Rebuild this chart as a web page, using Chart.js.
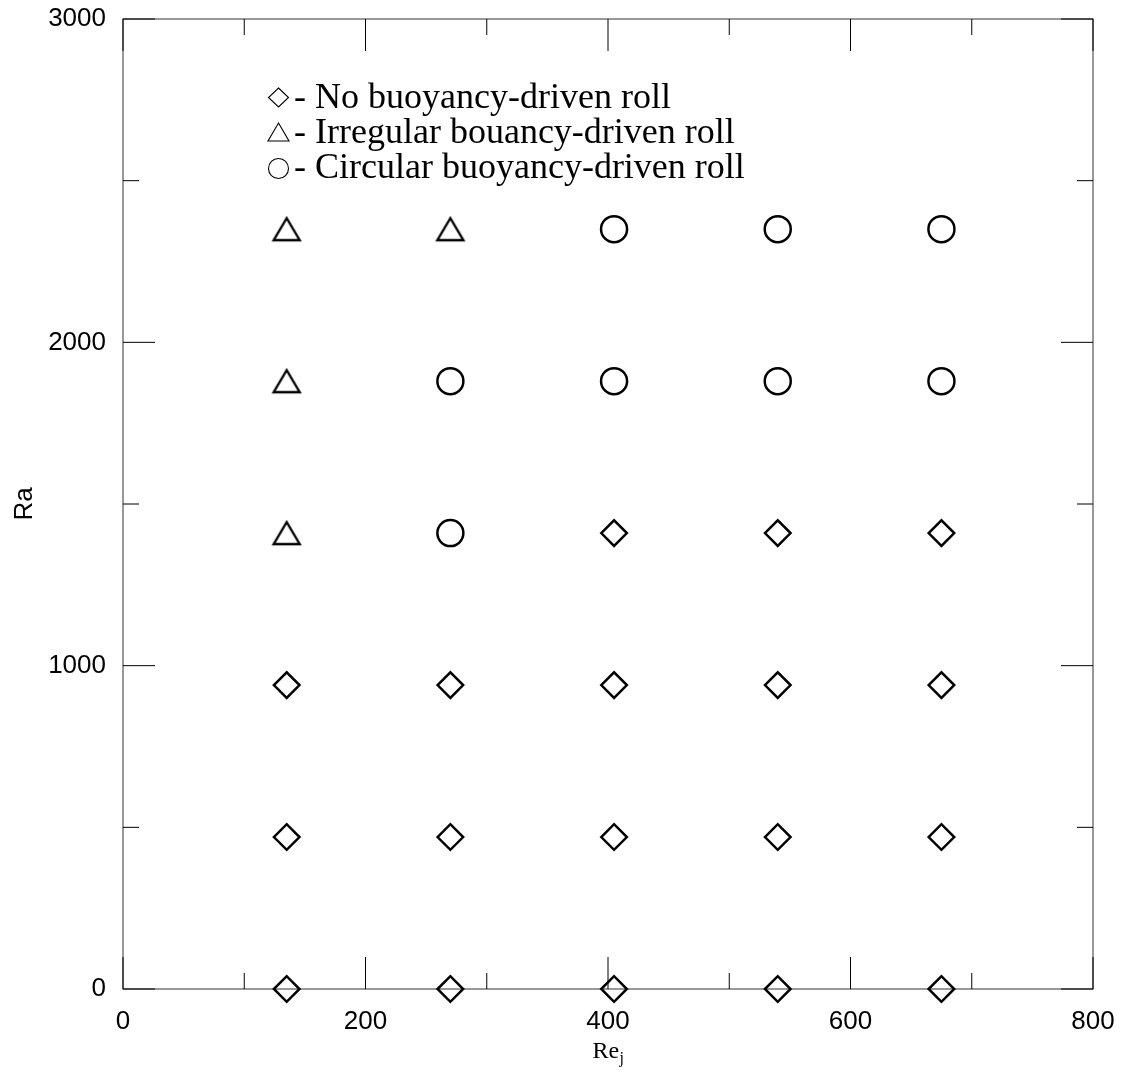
<!DOCTYPE html>
<html><head><meta charset="utf-8">
<script src="https://cdn.jsdelivr.net/npm/chart.js@4"></script>
<style>html,body{margin:0;padding:0;background:#fff}#wrap{width:1125px;height:1073px;position:relative}</style>
</head><body><div id="wrap"><canvas id="c"></canvas></div>
<script>
// Data (Re_j, Ra) for each flow regime
const noRollRe = [135, 270, 405, 540, 675, 135, 270, 405, 540, 675, 135, 270, 405, 540, 675, 405, 540, 675];
const noRollRa = [0, 0, 0, 0, 0, 470, 470, 470, 470, 470, 940, 940, 940, 940, 940, 1410, 1410, 1410];
const irregularRe = [135, 135, 135, 270];
const irregularRa = [1410, 1880, 2350, 2350];
const circularRe = [270, 270, 405, 540, 675, 405, 540, 675];
const circularRa = [1410, 1880, 1880, 1880, 1880, 2350, 2350, 2350];
const legendLabels = ['- No buoyancy-driven roll', '- Irregular bouancy-driven roll', '- Circular buoyancy-driven roll'];
const xMajorTicks = [0, 200, 400, 600, 800];
const xMinorTicks = [100, 300, 500, 700];
const yMajorTicks = [0, 1000, 2000, 3000];
const yMinorTicks = [500, 1500, 2500];
const xTitle = 'Re';
const xTitleSub = 'j';
const yTitle = 'Ra';

const toPts = (xs, ys) => xs.map((x, i) => ({x: x, y: ys[i]}));

// triangle marker centred on its bounding box
function makeTriangle(w, h, lw) {
  const c = document.createElement('canvas');
  const pad = Math.ceil(lw) + 1;
  c.width = Math.ceil(w + 2 * pad); c.height = Math.ceil(h + 2 * pad);
  const g = c.getContext('2d');
  const cx = c.width / 2, cy = c.height / 2;
  g.strokeStyle = '#000'; g.lineWidth = lw; g.lineJoin = 'miter';
  g.beginPath();
  g.moveTo(cx, cy - h / 2);
  g.lineTo(cx + w / 2, cy + h / 2);
  g.lineTo(cx - w / 2, cy + h / 2);
  g.closePath(); g.stroke();
  return c;
}
const triImg = makeTriangle(26, 22, 2.4);

const frameTicks = {
  id: 'frameTicks',
  beforeDatasetsDraw(chart) {
    const {ctx, chartArea: a, scales: {x, y}} = chart;
    ctx.save();
    ctx.strokeStyle = '#333'; ctx.lineWidth = 1;
    ctx.strokeRect(a.left, a.top, a.right - a.left, a.bottom - a.top);
    ctx.strokeStyle = '#000';
    ctx.beginPath();
    const doX = (vals, len) => vals.forEach(v => {
      const px = x.getPixelForValue(v);
      ctx.moveTo(px, a.bottom); ctx.lineTo(px, a.bottom - len);
      ctx.moveTo(px, a.top); ctx.lineTo(px, a.top + len);
    });
    const doY = (vals, len) => vals.forEach(v => {
      const py = y.getPixelForValue(v);
      ctx.moveTo(a.left, py); ctx.lineTo(a.left + len, py);
      ctx.moveTo(a.right, py); ctx.lineTo(a.right - len, py);
    });
    doX(xMajorTicks, 32); doX(xMinorTicks, 16);
    doY(yMajorTicks, 32); doY(yMinorTicks, 16);
    ctx.stroke();
    ctx.restore();
  },
  afterDraw(chart) {
    const {ctx, chartArea: a} = chart;
    ctx.save();
    // legend
    ctx.strokeStyle = '#000'; ctx.lineWidth = 1.1;
    const sx = 278.5;
    const rows = [108, 143, 178];
    ctx.beginPath();
    ctx.moveTo(sx, 88); ctx.lineTo(sx + 10, 97.5); ctx.lineTo(sx, 107); ctx.lineTo(sx - 10, 97.5); ctx.closePath();
    ctx.stroke();
    ctx.beginPath();
    ctx.moveTo(sx, 123); ctx.lineTo(sx + 10.5, 141); ctx.lineTo(sx - 10.5, 141); ctx.closePath();
    ctx.stroke();
    ctx.beginPath();
    ctx.arc(sx, 168.5, 10, 0, Math.PI * 2);
    ctx.stroke();
    ctx.fillStyle = '#000';
    ctx.font = '36px "Liberation Serif", "Times New Roman", serif';
    ctx.textAlign = 'left'; ctx.textBaseline = 'alphabetic';
    legendLabels.forEach((t, i) => ctx.fillText(t, 294, rows[i]));
    // y title
    ctx.font = '26px "Liberation Sans", Arial, sans-serif';
    ctx.save();
    ctx.translate(32, (a.top + a.bottom) / 2);
    ctx.rotate(-Math.PI / 2);
    ctx.textAlign = 'center'; ctx.textBaseline = 'alphabetic';
    ctx.fillText(yTitle, 0, 0);
    ctx.restore();
    // x title with subscript
    ctx.font = '24px "Liberation Serif", "Times New Roman", serif';
    const w1 = ctx.measureText(xTitle).width;
    ctx.font = '16px "Liberation Serif", "Times New Roman", serif';
    const w2 = ctx.measureText(xTitleSub).width;
    const cx = (a.left + a.right) / 2;
    const x0 = cx - (w1 + w2) / 2;
    ctx.textAlign = 'left';
    ctx.font = '24px "Liberation Serif", "Times New Roman", serif';
    ctx.fillText(xTitle, x0, 1058);
    ctx.font = '16px "Liberation Serif", "Times New Roman", serif';
    ctx.fillText(xTitleSub, x0 + w1 + 0.5, 1063);
    ctx.restore();
  }
};

const common = {borderColor: '#000', backgroundColor: 'rgba(0,0,0,0)', borderWidth: 2.5, clip: false, showLine: false};
const plainNum = v => String(v);

new Chart(document.getElementById('c'), {
  type: 'scatter',
  data: {
    datasets: [
      Object.assign({label: 'No buoyancy-driven roll', data: toPts(noRollRe, noRollRa), pointStyle: 'rectRot', pointRadius: 12.8, pointHoverRadius: 12.8}, common),
      Object.assign({label: 'Irregular bouancy-driven roll', data: toPts(irregularRe, irregularRa), pointStyle: triImg, pointRadius: 14, pointHoverRadius: 14}, common),
      Object.assign({label: 'Circular buoyancy-driven roll', data: toPts(circularRe, circularRa), pointStyle: 'circle', pointRadius: 13, pointHoverRadius: 13}, common)
    ]
  },
  options: {
    responsive: true, maintainAspectRatio: false, animation: false,
    events: [],
    layout: {padding: {top: 19, right: 32, left: 0, bottom: 0}},
    plugins: {legend: {display: false}, tooltip: {enabled: false}},
    scales: {
      x: {
        type: 'linear', min: 0, max: 800,
        border: {display: false},
        grid: {display: false, drawTicks: false},
        ticks: {stepSize: 200, padding: 17, color: '#000', callback: plainNum, font: {family: '"Liberation Sans", Arial, sans-serif', size: 26}},
        afterFit(s) { s.height = 84; s.paddingLeft = 0; s.paddingRight = 0; }
      },
      y: {
        type: 'linear', min: 0, max: 3000,
        border: {display: false},
        grid: {display: false, drawTicks: false},
        ticks: {stepSize: 1000, padding: 17, color: '#000', callback: plainNum, font: {family: '"Liberation Sans", Arial, sans-serif', size: 26}},
        afterFit(s) { s.width = 123; s.paddingTop = 0; s.paddingBottom = 0; }
      }
    }
  },
  plugins: [frameTicks]
});
</script>
</body></html>
